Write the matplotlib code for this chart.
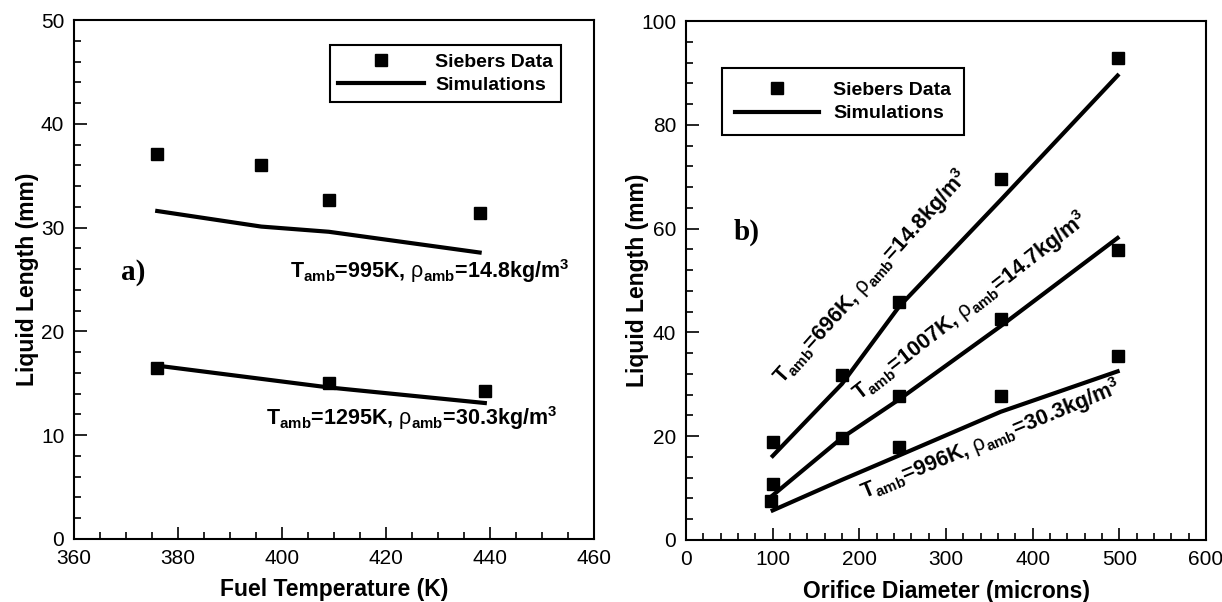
import matplotlib
matplotlib.use("Agg")
import matplotlib.pyplot as plt
from matplotlib.ticker import MultipleLocator

plt.rcParams['font.family'] = ['Liberation Sans', 'DejaVu Sans']
plt.rcParams['mathtext.fontset'] = 'custom'
plt.rcParams['mathtext.rm'] = 'Liberation Sans'
plt.rcParams['mathtext.bf'] = 'Liberation Sans:bold'
plt.rcParams['mathtext.default'] = 'bf'

# panel a) fuel temperature sweep
temp_data_995 = [376, 396, 409, 438]
len_data_995 = [37.1, 36.0, 32.7, 31.4]
temp_sim_995 = [376, 396, 409, 438]
len_sim_995 = [31.6, 30.1, 29.6, 27.6]

temp_data_1295 = [376, 409, 439]
len_data_1295 = [16.5, 15.0, 14.3]
temp_sim_1295 = [376, 409, 439]
len_sim_1295 = [16.7, 14.6, 13.1]

# panel b) orifice diameter sweep
diam_data_696 = [100, 180, 246, 363, 498]
len_data_696 = [18.9, 31.7, 45.8, 69.5, 92.8]
diam_data_1007 = [100, 180, 246, 363, 498]
len_data_1007 = [10.7, 19.6, 27.7, 42.5, 55.8]
diam_data_996 = [98, 246, 363, 499]
len_data_996 = [7.5, 17.9, 27.7, 35.4]

diam_sim = [100, 180, 246, 363, 498]
len_sim_696 = [16.2, 30.1, 45.0, 65.5, 89.5]
len_sim_1007 = [8.6, 19.7, 27.1, 41.2, 58.2]
len_sim_996 = [5.7, 11.6, 16.3, 24.7, 32.5]

LW = 3.0
MS = 8
TXT = 15.5


def label(t, rest):
    return r'T$_{amb}$=' + t + r', $\mathrm{\rho}_{amb}$=' + rest + r'kg/m$^{3}$'


def style_axes(ax, xmaj, xmin, ymaj, ymin):
    ax.xaxis.set_major_locator(MultipleLocator(xmaj))
    ax.xaxis.set_minor_locator(MultipleLocator(xmin))
    ax.yaxis.set_major_locator(MultipleLocator(ymaj))
    ax.yaxis.set_minor_locator(MultipleLocator(ymin))
    ax.tick_params(which='both', direction='in', top=False, right=False,
                   labelsize=15, pad=7, width=1.2)
    ax.tick_params(which='major', length=9)
    ax.tick_params(which='minor', length=5)
    for s in ax.spines.values():
        s.set_linewidth(1.5)


fig = plt.figure(figsize=(12.22, 6.02), dpi=100)
ax1 = fig.add_axes([0.0606, 0.1047, 0.4255, 0.862])
ax2 = fig.add_axes([0.5614, 0.103, 0.4255, 0.862])

# ---- a)
ax1.plot(temp_data_995, len_data_995, 's', color='black', ms=MS, label='Siebers Data')
ax1.plot(temp_sim_995, len_sim_995, '-', color='black', lw=LW, label='Simulations')
ax1.plot(temp_data_1295, len_data_1295, 's', color='black', ms=MS)
ax1.plot(temp_sim_1295, len_sim_1295, '-', color='black', lw=LW)
ax1.set_xlim(360, 460)
ax1.set_ylim(0, 50)
style_axes(ax1, 20, 5, 10, 2)
ax1.set_xlabel('Fuel Temperature (K)', fontsize=16.5, fontweight='bold')
ax1.set_ylabel('Liquid Length (mm)', fontsize=16.5, fontweight='bold', va='center')
ax1.xaxis.set_label_coords(0.5, -0.075)
ax1.yaxis.set_label_coords(-0.09, 0.5)

ax1.text(369, 25.0, 'a)', family='Liberation Serif', fontweight='bold', fontsize=21)
ax1.text(401.5, 25.1, label('995K', '14.8'),
         fontsize=TXT, fontweight='bold', ha='left', va='baseline')
ax1.text(396.9, 11.0, label('1295K', '30.3'),
         fontsize=TXT, fontweight='bold', ha='left', va='baseline')

leg1 = ax1.legend(loc='upper left', bbox_to_anchor=(0.492, 0.952), borderaxespad=0,
                  prop={'weight': 'bold', 'size': 14}, frameon=True, fancybox=False,
                  framealpha=1, edgecolor='black', handlelength=4.4, handletextpad=0.6,
                  labelspacing=0.3, borderpad=0.42)
leg1.get_frame().set_linewidth(1.5)

# ---- b)
ax2.plot(diam_data_696, len_data_696, 's', color='black', ms=MS, label='Siebers Data')
ax2.plot(diam_sim, len_sim_696, '-', color='black', lw=LW, label='Simulations')
ax2.plot(diam_data_1007, len_data_1007, 's', color='black', ms=MS)
ax2.plot(diam_sim, len_sim_1007, '-', color='black', lw=LW)
ax2.plot(diam_data_996, len_data_996, 's', color='black', ms=MS)
ax2.plot(diam_sim, len_sim_996, '-', color='black', lw=LW)
ax2.set_xlim(0, 600)
ax2.set_ylim(0, 100)
style_axes(ax2, 100, 20, 20, 4)
ax2.set_xlabel('Orifice Diameter (microns)', fontsize=16.5, fontweight='bold')
ax2.set_ylabel('Liquid Length (mm)', fontsize=16.5, fontweight='bold', va='center')
ax2.xaxis.set_label_coords(0.5, -0.077)
ax2.yaxis.set_label_coords(-0.094, 0.5)

ax2.text(55.4, 57.8, 'b)', family='Liberation Serif', fontweight='bold', fontsize=21)
ax2.text(213, 50.8, label('696K', '14.8'), fontsize=TXT,
         fontweight='bold', ha='center', va='center', rotation=48, rotation_mode='anchor')
ax2.text(327.6, 45.1, label('1007K', '14.7'), fontsize=TXT,
         fontweight='bold', ha='center', va='center', rotation=38, rotation_mode='anchor')
ax2.text(351.5, 19.4, label('996K', '30.3'), fontsize=TXT,
         fontweight='bold', ha='center', va='center', rotation=22.5, rotation_mode='anchor')

leg2 = ax2.legend(loc='upper left', bbox_to_anchor=(0.069, 0.909), borderaxespad=0,
                  prop={'weight': 'bold', 'size': 14}, frameon=True, fancybox=False,
                  framealpha=1, edgecolor='black', handlelength=4.34, handletextpad=0.7,
                  labelspacing=0.3, borderpad=0.67)
leg2.get_frame().set_linewidth(1.5)

fig.savefig('out.png', dpi=100)
